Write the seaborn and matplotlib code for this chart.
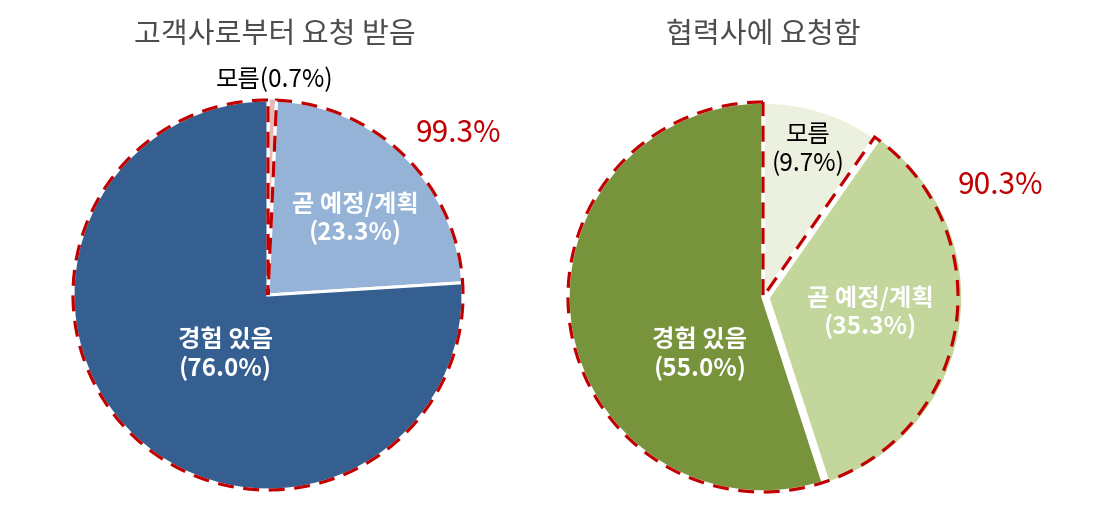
import matplotlib
matplotlib.use("Agg")
import matplotlib.pyplot as plt
import seaborn as sns

# ---- data ----
categories = ["모름", "곧 예정/계획", "경험 있음"]
left_title = "고객사로부터 요청 받음"
right_title = "협력사에 요청함"
left_values = [0.7, 23.3, 76.0]
right_values = [9.7, 35.3, 55.0]
left_highlight = 99.3
right_highlight = 90.3

left_colors = ["#E6B9B8", "#95B3D7", "#365F91"]
right_colors = ["#EBF1DE", "#C3D69B", "#77933C"]
red = "#C00000"

sns.set_theme(style="white")
plt.rcParams['font.family'] = ['Noto Sans CJK KR', 'DejaVu Sans']

W, H = 1094, 514
fig = plt.figure(figsize=(W / 100, H / 100), dpi=100)
ax = fig.add_axes([0, 0, 1, 1])


def py(y):
    return H - y


R = 195
lc = (268, py(295))
rc = (763, py(297))
dash = (0, (5.0, 3.0))

# left pie
ax.pie(left_values, colors=left_colors, startangle=90, counterclock=False,
       center=lc, radius=R, explode=[2, 0, 0],
       wedgeprops=dict(edgecolor="white", linewidth=2.2))
dw, _ = ax.pie([100 - left_highlight, left_highlight], colors=["none", "none"],
               startangle=90, counterclock=False, center=lc, radius=R,
               wedgeprops=dict(fill=False, edgecolor=red, linewidth=2.3,
                               linestyle=dash))
dw[0].set_visible(False)

# right pie
ax.pie(right_values, colors=right_colors, startangle=90, counterclock=False,
       center=rc, radius=R, explode=[0, 5, 0],
       wedgeprops=dict(edgecolor="white", linewidth=2.5))
dw, _ = ax.pie([100 - right_highlight, right_highlight], colors=["none", "none"],
               startangle=90, counterclock=False, center=rc, radius=R,
               wedgeprops=dict(fill=False, edgecolor=red, linewidth=2.3,
                               linestyle=dash))
dw[0].set_visible(False)

ax.set_xlim(0, W)
ax.set_ylim(0, H)
ax.set_aspect("equal")
ax.axis("off")

# titles
tkw = dict(ha="center", va="center", fontsize=21, color="#4D4D4D")
ax.text(275, py(35), left_title, **tkw)
ax.text(763, py(35), right_title, **tkw)

wkw = dict(ha="center", va="center", fontsize=17.5, color="white",
           fontweight="bold", linespacing=1.15)
bkw = dict(ha="center", va="center", fontsize=17.5, color="black", linespacing=1.15)
rkw = dict(ha="center", va="center", fontsize=21.5, color=red)

# left labels
ax.text(275, py(80), f"{categories[0]}({left_values[0]:.1f}%)", **bkw)
ax.text(355, py(218), f"{categories[1]}\n({left_values[1]:.1f}%)", **wkw)
ax.text(225, py(355), f"{categories[2]}\n({left_values[2]:.1f}%)", **wkw)
ax.text(458, py(133), f"{left_highlight:.1f}%", **rkw)

# right labels
ax.text(808, py(150), f"{categories[0]}\n({right_values[0]:.1f}%)", **bkw)
ax.text(870, py(312), f"{categories[1]}\n({right_values[1]:.1f}%)", **wkw)
ax.text(700, py(355), f"{categories[2]}\n({right_values[2]:.1f}%)", **wkw)
ax.text(1000, py(185), f"{right_highlight:.1f}%", **rkw)

fig.savefig("out.png", dpi=100)
